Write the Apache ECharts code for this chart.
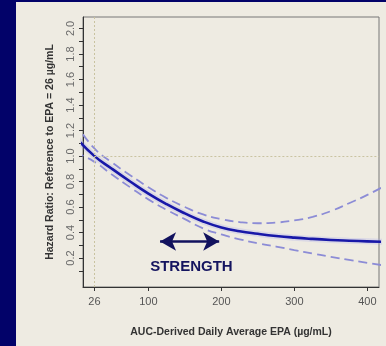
<!DOCTYPE html>
<html>
<head>
<meta charset="utf-8">
<script src="https://cdn.jsdelivr.net/npm/echarts@6/dist/echarts.min.js"></script>
<style>
html,body{margin:0;padding:0;background:#020269;width:386px;height:346px;overflow:hidden;}
#c{position:absolute;left:0;top:0;width:386px;height:346px;}
</style>
</head>
<body>
<div id="c"></div>
<script>
var xVals = [0, 25, 50, 75, 100, 125, 150, 175, 200, 225, 250, 275, 300, 325, 350, 375, 400, 425];
var hrMain = [1.15, 1.005, 0.9, 0.80, 0.705, 0.622, 0.55, 0.487, 0.44, 0.41, 0.39, 0.373, 0.36, 0.35, 0.342, 0.336, 0.331, 0.326];
var hrUpper = [1.26, 1.065, 0.95, 0.85, 0.755, 0.67, 0.6, 0.542, 0.505, 0.482, 0.473, 0.478, 0.495, 0.523, 0.568, 0.63, 0.695, 0.77];
var hrLower = [1.03, 0.958, 0.855, 0.755, 0.66, 0.578, 0.505, 0.432, 0.385, 0.347, 0.316, 0.29, 0.262, 0.236, 0.21, 0.185, 0.162, 0.14];
var xTicks = [26, 100, 200, 300, 400];
var yTicks = [0.1,0.2,0.3,0.4,0.5,0.6,0.7,0.8,0.9,1.0,1.1,1.2,1.3,1.4,1.5,1.6,1.7,1.8,1.9,2.0];
var yLabels = [0.2,0.4,0.6,0.8,1.0,1.2,1.4,1.6,1.8,2.0];
var refX = 26, refY = 1.0;
var arrowFrom = [116, 0.33], arrowTo = [197, 0.33];
var noteText = 'STRENGTH', notePos = [159, 0.134];

function pairs(ys){ return xVals.map(function(x,i){ return [x, ys[i]]; }); }

var chart = echarts.init(document.getElementById('c'));
var F = 'Liberation Sans, Arial, sans-serif';
chart.setOption({
  animation: false,
  backgroundColor: '#020269',
  graphic: [{type: 'rect', z: -10, silent: true, shape: {x: 16, y: 2, width: 370, height: 344}, style: {fill: '#eeebe2'}}],
  grid: {left: 83, top: 17, right: 7, bottom: 59, show: true, borderColor: '#777', borderWidth: 1},
  xAxis: {
    type: 'value', min: 10.4, max: 416,
    axisLine: {show: true, onZero: false, lineStyle: {color: '#333', width: 1}},
    axisTick: {show: true, customValues: xTicks, length: 4, lineStyle: {color: '#333'}},
    axisLabel: {customValues: xTicks, color: '#555', fontSize: 11, fontFamily: F, margin: 9},
    splitLine: {show: false},
    name: 'AUC-Derived Daily Average EPA (µg/mL)', nameLocation: 'middle', nameGap: 40,
    nameTextStyle: {color: '#333', fontSize: 10.5, fontWeight: 'bold', fontFamily: F}
  },
  yAxis: {
    type: 'value', min: -0.027, max: 2.09,
    axisLine: {show: true, onZero: false, lineStyle: {color: '#333', width: 1}},
    axisTick: {show: true, customValues: yTicks, length: 4, lineStyle: {color: '#333'}},
    axisLabel: {customValues: yLabels, rotate: 90, color: '#6a6a6a', fontSize: 11, fontFamily: F, margin: 7,
      formatter: function(v){ return v.toFixed(1); }},
    splitLine: {show: false},
    name: 'Hazard Ratio: Reference to EPA = 26 µg/mL', nameLocation: 'middle', nameGap: 27,
    nameTextStyle: {color: '#333', fontSize: 10.5, fontWeight: 'bold', fontFamily: F}
  },
  series: [
    {type: 'line', data: [], silent: true,
     markLine: {silent: true, symbol: 'none', label: {show: false},
       lineStyle: {color: '#c9c3a0', type: [2, 2], width: 1},
       data: [
         [{coord: [refX, -0.027]}, {coord: [refX, 2.09]}],
         [{coord: [refX, refY]}, {coord: [416, refY]}]
       ]}},
    {type: 'line', data: pairs(hrMain), smooth: true, clip: true, showSymbol: false, silent: true,
     lineStyle: {color: 'rgba(160,160,240,0.25)', width: 6}},
    {type: 'line', data: pairs(hrUpper), smooth: true, clip: true, showSymbol: false, silent: true,
     lineStyle: {color: '#8c8cd6', width: 1.8, type: [9, 5]}},
    {type: 'line', data: pairs(hrLower), smooth: true, clip: true, showSymbol: false, silent: true,
     lineStyle: {color: '#8c8cd6', width: 1.8, type: [9, 5]}},
    {type: 'line', data: pairs(hrMain), smooth: true, clip: true, showSymbol: false, silent: true,
     lineStyle: {color: '#1818a8', width: 2.6},
     markLine: {silent: true, symbol: ['arrow', 'arrow'], symbolSize: [14, 16], label: {show: false},
       lineStyle: {color: '#12125e', type: 'solid', width: 2.5},
       data: [[{coord: arrowFrom}, {coord: arrowTo}]]},
     markPoint: {silent: true, symbol: 'circle', symbolSize: 0,
       label: {show: true, position: 'inside', formatter: noteText, color: '#14145f', fontSize: 15, fontWeight: 'bold', fontFamily: F},
       data: [{coord: notePos}]}}
  ]
});
</script>
</body>
</html>
